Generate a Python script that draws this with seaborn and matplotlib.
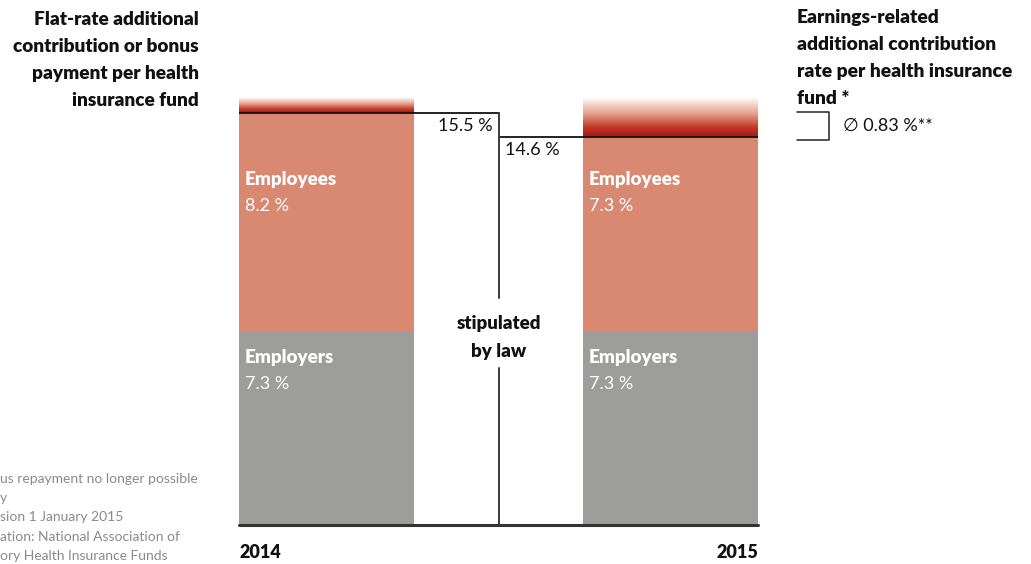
import numpy as np
import pandas as pd
import matplotlib
matplotlib.use("Agg")
import matplotlib.pyplot as plt
from matplotlib.colors import LinearSegmentedColormap
import seaborn as sns

# ---- data ----
years = ["2014", "2015"]
employers = [7.3, 7.3]
employees = [8.2, 7.3]
totals = [15.5, 14.6]
# height of the faded band for the additional contribution on top of each bar
extra_band = [0.6, 1.5]
footnotes = [
    "us repayment no longer possible",
    "y",
    "sion 1 January 2015",
    "ation: National Association of",
    "ory Health Insurance Funds",
]

sns.set_theme(style="white")
plt.rcParams["font.family"] = ["Lato", "DejaVu Sans"]

W, H = 1031, 564
fig = plt.figure(figsize=(W / 100, H / 100), dpi=100)
fig.patch.set_facecolor("white")


def fx(x):
    return x / W


def fy(y):
    return 1 - y / H


HEAVY = "heavy"
bar_w = 0.5087
x_lo, x_hi = -bar_w / 2, 1 + bar_w / 2
ax = fig.add_axes([fx(239), fy(525), fx(758) - fx(239), fy(89) - fy(525)])

df = pd.DataFrame({"year": years, "employers": employers,
                   "employees": employees, "total": totals})

c_employees = "#d98872"
c_employers = "#9d9d9b"
sns.barplot(data=df, x="year", y="total", order=years, color=c_employees,
            saturation=1, width=bar_w, ax=ax, linewidth=0, errorbar=None)
sns.barplot(data=df, x="year", y="employers", order=years, color=c_employers,
            saturation=1, width=bar_w, ax=ax, linewidth=0, errorbar=None)

# faded red band for the additional contribution
cmap = LinearSegmentedColormap.from_list(
    "fade", [(0, "#a8150f"), (0.25, "#c43a2a"), (0.6, "#e6a491"), (1, "#ffffff")])
grad = np.linspace(0, 1, 256).reshape(-1, 1)
for i, (t, b) in enumerate(zip(totals, extra_band)):
    ax.imshow(grad, cmap=cmap, aspect="auto", origin="lower",
              extent=[i - bar_w / 2, i + bar_w / 2, t, t + b], zorder=2)

line_c = "#3a3a3a"
# total markers and connector
ax.plot([x_lo, 0.5], [totals[0], totals[0]], color="#111111", lw=1.3, zorder=3)
ax.plot([0.5, x_hi], [totals[1], totals[1]], color="#111111", lw=1.3, zorder=3)
ax.plot([0.5, 0.5], [totals[0], 8.55], color=line_c, lw=1.4, zorder=3)
ax.plot([0.5, 0.5], [5.9, 0], color=line_c, lw=1.4, zorder=3)
ax.plot([x_lo, x_hi], [0, 0], color="#333333", lw=2.2, zorder=4, clip_on=False)

ax.set_xlim(x_lo, x_hi)
ax.set_ylim(0, 16.4)
ax.axis("off")

# labels inside bars
pad = 6 / 344
for i in range(len(years)):
    xl = i - bar_w / 2 + pad
    ax.text(xl, 13.0, "Employees", color="white", fontsize=13.5,
            fontweight=HEAVY, va="center", ha="left", zorder=5)
    ax.text(xl, 12.0, f"{employees[i]:.1f} %", color="white", fontsize=13,
            va="center", ha="left", zorder=5)
    ax.text(xl, 6.3, "Employers", color="white", fontsize=13.5,
            fontweight=HEAVY, va="center", ha="left", zorder=5)
    ax.text(xl, 5.3, f"{employers[i]:.1f} %", color="white", fontsize=13,
            va="center", ha="left", zorder=5)

# total values
ax.text(0.5 - 6 / 344, totals[0] - 0.2, f"{totals[0]:.1f} %", fontsize=13,
        color="#111111", ha="right", va="top")
ax.text(0.5 + 6 / 344, totals[1] - 0.2, f"{totals[1]:.1f} %", fontsize=13,
        color="#111111", ha="left", va="top")
ax.text(0.5, 7.05, "stipulated\nby law", fontsize=13.5, fontweight=HEAVY,
        color="#111111", ha="center", va="center", linespacing=1.78)

# headings
fig.text(fx(199), fy(11), "Flat-rate additional\ncontribution or bonus\npayment per health\ninsurance fund",
         fontsize=13.7, fontweight=HEAVY, ha="right", va="top", color="#111111",
         linespacing=1.72, multialignment="right")
fig.text(fx(797), fy(9), "Earnings-related\nadditional contribution\nrate per health insurance\nfund *",
         fontsize=13.9, fontweight=HEAVY, ha="left", va="top", color="#111111",
         linespacing=1.72)

# small open box marker
bx = [fx(797), fx(829), fx(829), fx(797)]
by = [fy(112), fy(112), fy(140), fy(140)]
fig.add_artist(plt.Line2D(bx, by, color="#222222", lw=1.1))
fig.text(fx(843), fy(126), "\u2205 0.83 %**", fontsize=13, ha="left",
         va="center", color="#111111")

# year labels
fig.text(fx(239), fy(553), years[0], fontsize=13, fontweight=HEAVY,
         ha="left", va="center", color="#111111")
fig.text(fx(758), fy(553), years[1], fontsize=13, fontweight=HEAVY,
         ha="right", va="center", color="#111111")

# footnotes
for k, line in enumerate(footnotes):
    fig.text(fx(0), fy(479 + k * 19.2), line, fontsize=10, ha="left",
             va="center", color="#8a8a8a")

fig.savefig("out.png", dpi=100, facecolor="white")
